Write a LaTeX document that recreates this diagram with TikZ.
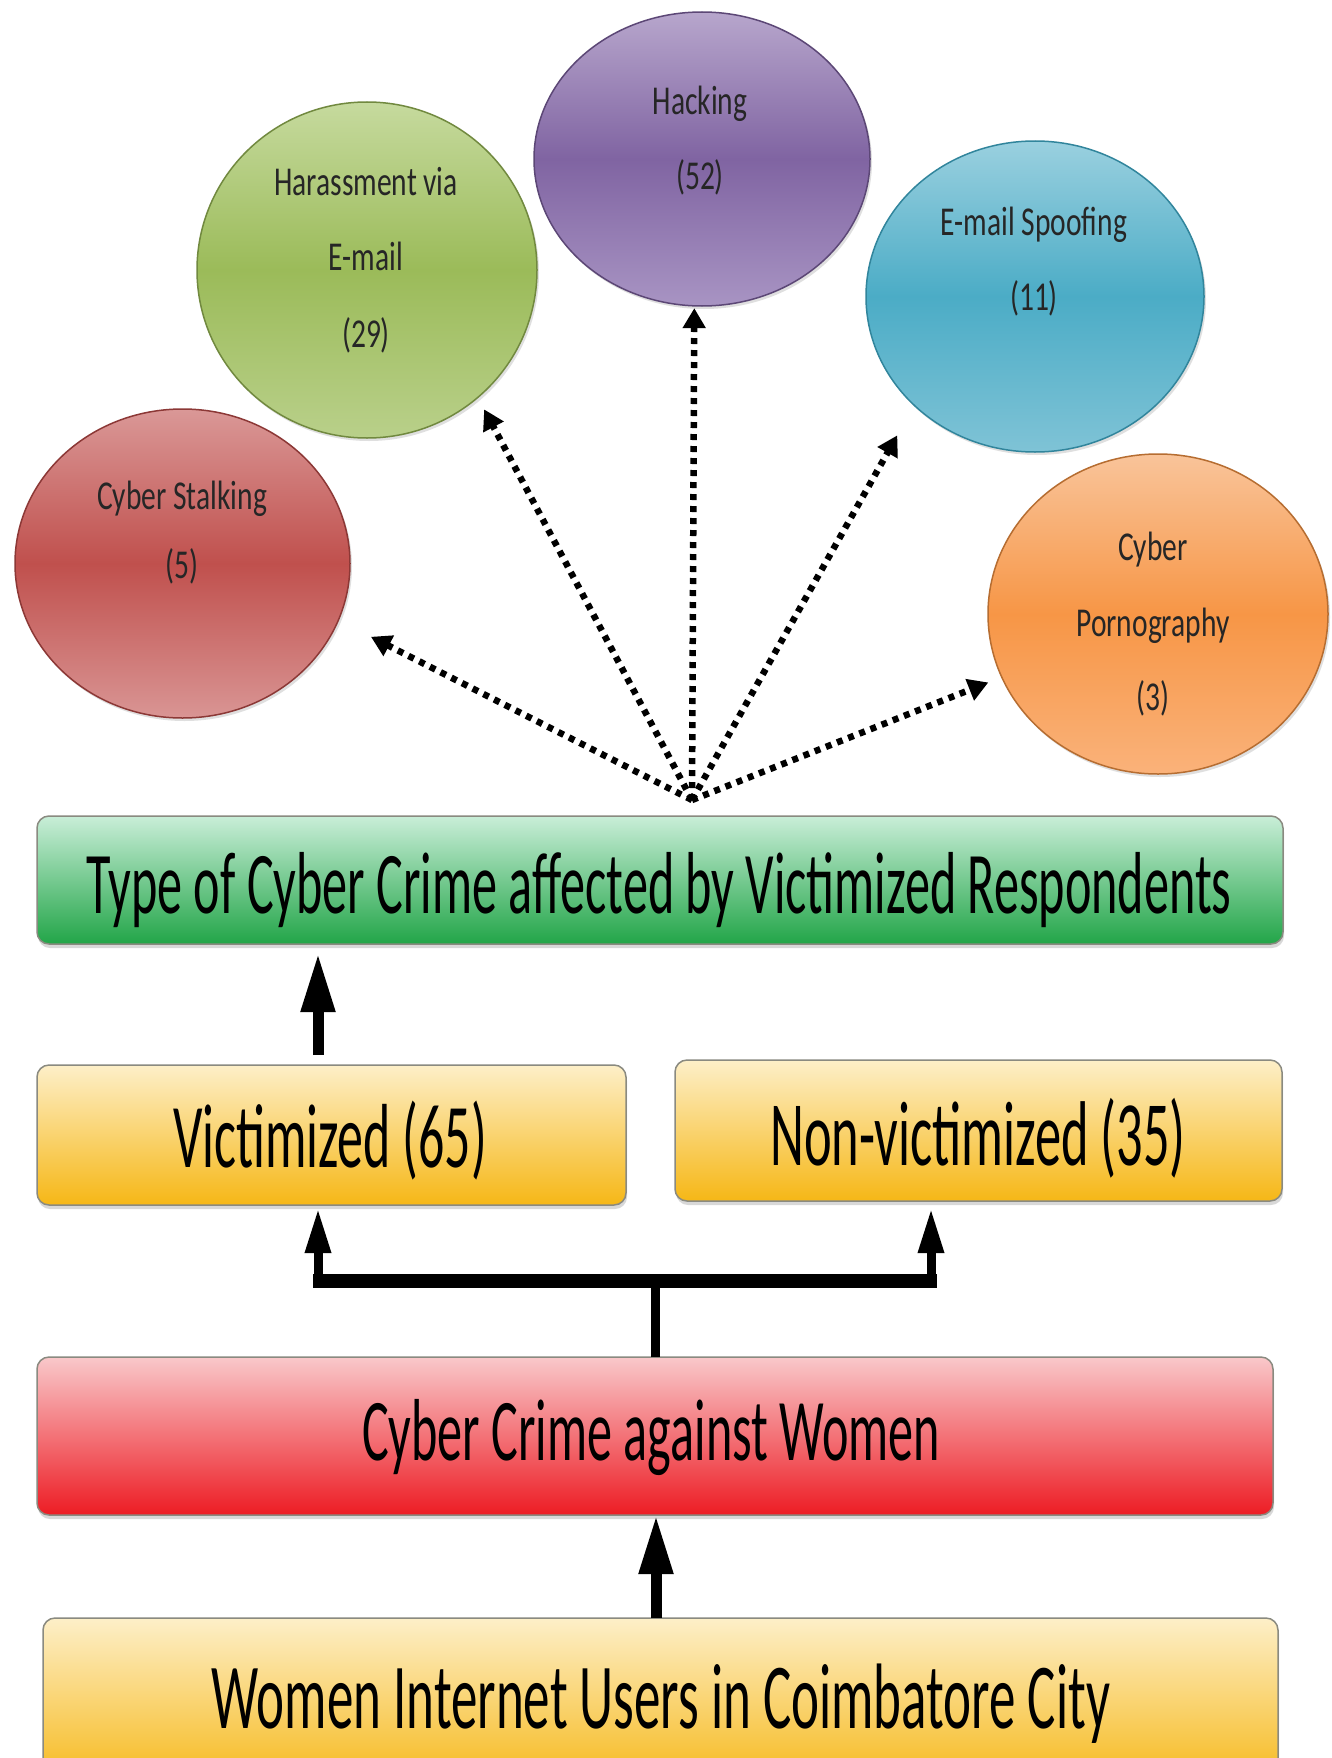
\documentclass[tikz,border=0pt]{standalone}
\usepackage{fontspec}
\newfontfamily\bigfont[FakeStretch=0.57]{Carlito}
\newfontfamily\smallfont[FakeStretch=0.72]{Carlito}
\usetikzlibrary{arrows.meta,shapes.geometric,shadows}

\definecolor{stalkTop}{HTML}{DA9897}
\definecolor{stalkMid}{HTML}{C0504D}
\definecolor{stalkBot}{HTML}{D99594}
\definecolor{stalkLine}{HTML}{8C3836}
\definecolor{harTop}{HTML}{C6DA9E}
\definecolor{harMid}{HTML}{9BBB59}
\definecolor{harBot}{HTML}{B9D08A}
\definecolor{harLine}{HTML}{71893F}
\definecolor{hackTop}{HTML}{B7A6CC}
\definecolor{hackMid}{HTML}{8064A2}
\definecolor{hackBot}{HTML}{A894C3}
\definecolor{hackLine}{HTML}{5C4776}
\definecolor{spoofTop}{HTML}{9AD0DF}
\definecolor{spoofMid}{HTML}{4BACC6}
\definecolor{spoofBot}{HTML}{7FC3D6}
\definecolor{spoofLine}{HTML}{31859C}
\definecolor{pornTop}{HTML}{F9C49A}
\definecolor{pornMid}{HTML}{F79646}
\definecolor{pornBot}{HTML}{FAB27A}
\definecolor{pornLine}{HTML}{B66D31}
\definecolor{greenTop}{HTML}{C9EED8}
\definecolor{greenBot}{HTML}{22A548}
\definecolor{yelTop}{HTML}{FDEFC8}
\definecolor{yelBot}{HTML}{F6B716}
\definecolor{redTop}{HTML}{F9C8CA}
\definecolor{redBot}{HTML}{ED1C24}
\definecolor{boxLine}{HTML}{8A8A80}

\begin{document}
\begin{tikzpicture}[x=1pt,y=-1pt,
  ell/.style={ellipse, line width=1.5pt, inner sep=0pt, outer sep=0pt,
    drop shadow={shadow xshift=2pt, shadow yshift=-3pt, opacity=0.25}},
  box/.style={rectangle, rounded corners=12pt, draw=boxLine, line width=1.5pt,
    inner sep=0pt, outer sep=0pt,
    drop shadow={shadow xshift=1pt, shadow yshift=-4pt, opacity=0.3}},
  yelbox/.style={box, top color=yelTop, bottom color=yelBot},
  bigtxt/.style={anchor=base, inner sep=0pt, text=black,
    font=\bigfont\fontsize{88}{100}\selectfont},
  smalltxt/.style={anchor=base, inner sep=0pt, text=black!85,
    font=\smallfont\fontsize{41}{48}\selectfont},
  bigarr/.style={line width=11pt, -{Triangle[length=59pt,width=32pt]}},
  smallarr/.style={line width=9pt, -{Triangle[length=45pt,width=24pt]}},
  stemline/.style={line width=9pt},
  barline/.style={line width=14pt},
  dotarr/.style={line width=6.5pt, dash pattern=on 6pt off 6pt,
    -{Triangle[length=20pt,width=22pt]}}
]
\useasboundingbox (0,0) rectangle (1331,1758);
\clip (0,0) rectangle (1331,1758);
\fill[white] (0,0) rectangle (1331,1758);

% ellipses
\node[ell, draw=stalkLine, top color=stalkTop, bottom color=stalkBot, middle color=stalkMid,
  minimum width=335pt, minimum height=309pt] (stalk) at (182.5,563.5) {};
\node[ell, draw=harLine, top color=harTop, bottom color=harBot, middle color=harMid,
  minimum width=340pt, minimum height=336pt] (harass) at (367,270) {};
\node[ell, draw=hackLine, top color=hackTop, bottom color=hackBot, middle color=hackMid,
  minimum width=336pt, minimum height=294pt] (hack) at (702,159) {};
\node[ell, draw=spoofLine, top color=spoofTop, bottom color=spoofBot, middle color=spoofMid,
  minimum width=338pt, minimum height=311pt] (spoof) at (1035,296.5) {};
\node[ell, draw=pornLine, top color=pornTop, bottom color=pornBot, middle color=pornMid,
  minimum width=340pt, minimum height=320pt] (porn) at (1158,614) {};

% ellipse texts
\node[smalltxt] (stalkA) at (182,509) {Cyber Stalking};
\node[smalltxt] (stalkB) at (182,578) {(5)};
\node[smalltxt] (harassA) at (366,195) {Harassment via};
\node[smalltxt] (harassB) at (366,270) {E-mail};
\node[smalltxt] (harassC) at (366,347) {(29)};
\node[smalltxt] (hackA) at (700,114) {Hacking};
\node[smalltxt] (hackB) at (700,189) {(52)};
\node[smalltxt] (spoofA) at (1034,235) {E-mail Spoofing};
\node[smalltxt] (spoofB) at (1034,310) {(11)};
\node[smalltxt] (pornA) at (1153,560) {Cyber};
\node[smalltxt] (pornB) at (1153,636) {Pornography};
\node[smalltxt] (pornC) at (1153,710) {(3)};

% boxes
\node[box, top color=greenTop, bottom color=greenBot,
  minimum width=1246pt, minimum height=128pt] (green) at (660,880) {};
\node[yelbox, minimum width=589pt, minimum height=140pt] (victim) at (331.5,1135) {};
\node[yelbox, minimum width=607pt, minimum height=141pt] (nonvictim) at (978.5,1130.5) {};
\node[box, top color=redTop, bottom color=redBot,
  minimum width=1236pt, minimum height=158pt] (red) at (655,1436) {};
\node[yelbox, minimum width=1235pt, minimum height=172pt] (women) at (660.5,1704) {};

% box texts
\node[bigtxt] (greenT) at (659,913) {Type of Cyber Crime affected by Victimized Respondents};
\node[bigtxt, font=\bigfont\fontsize{91}{100}\selectfont] (victimT) at (330,1167) {Victimized (65)};
\node[bigtxt, font=\bigfont\fontsize{92}{100}\selectfont] (nonvictimT) at (978,1165) {Non-victimized (35)};
\node[bigtxt] (redT) at (651,1460) {Cyber Crime against Women};
\node[bigtxt, font=\bigfont\fontsize{93}{100}\selectfont] (womenT) at (661,1728) {Women Internet Users in Coimbatore City};

% dotted arrows
\coordinate (hub) at (692,800);
\draw[dotarr, shorten >=36.6pt] (hub) -- (stalk.-20.9);
\draw[dotarr, shorten >=13.5pt] (hub) -- (harass.-49.5);
\draw[dotarr, shorten >=2.3pt] (hub) -- (hack.-93.9);
\draw[dotarr, shorten >=34.5pt] (hub) -- (spoof.-138.2);
\draw[dotarr, shorten >=14.5pt] (hub) -- (porn.-158.2);

% solid arrows
\draw[bigarr, shorten <=10pt, shorten >=9pt]
  ([xshift=-13.5pt]victim.north) -- ([xshift=-13.5pt]victim.north |- green.south);
\draw[bigarr] ([xshift=-4.5pt]women.north) -- ([xshift=-4.5pt]women.north |- red.south);

\coordinate (fork) at (655,1281);
\coordinate (forkL) at (318,1281);
\coordinate (forkR) at (931,1281);
\draw[stemline] (red.north) -- (fork);
\draw[barline] ([xshift=-5pt]forkL) -- ([xshift=6pt]forkR);
\draw[smallarr, shorten >=3pt] (forkL) -- (forkL |- victim.south);
\draw[smallarr, shorten >=7pt] (forkR) -- (forkR |- nonvictim.south);
\end{tikzpicture}
\end{document}
